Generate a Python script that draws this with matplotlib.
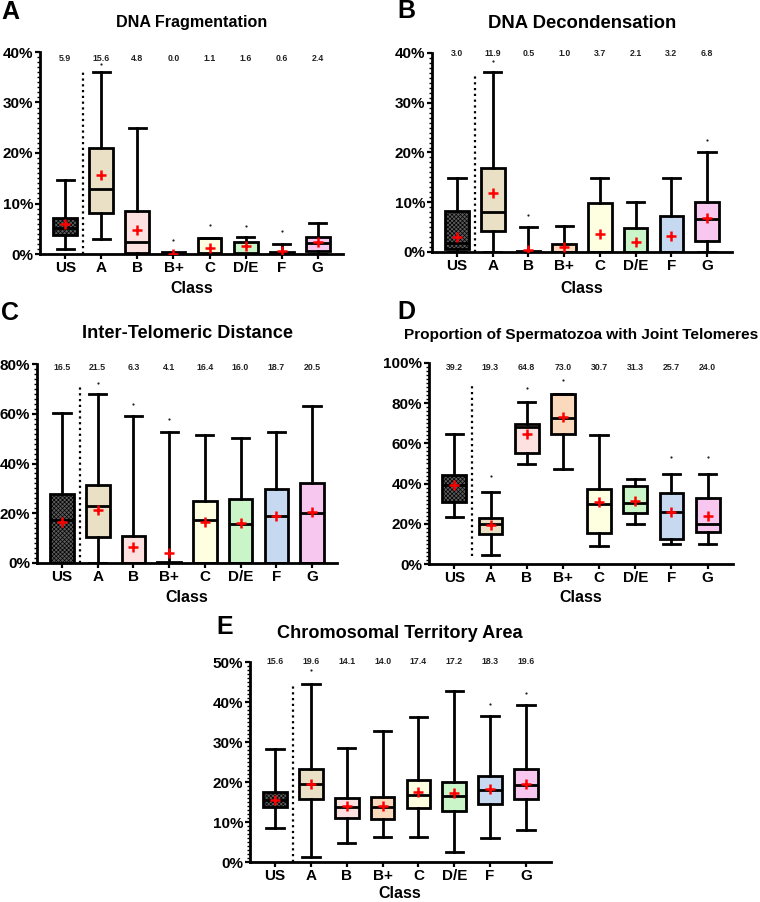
import numpy as np
import matplotlib
matplotlib.use("Agg")
import matplotlib.pyplot as plt
from matplotlib.ticker import PercentFormatter, MultipleLocator, AutoMinorLocator

plt.rcParams['font.family'] = ['Liberation Sans', 'DejaVu Sans']
plt.rcParams['font.weight'] = 'bold'
plt.rcParams['hatch.linewidth'] = 0.5

classes = ["US", "A", "B", "B+", "C", "D/E", "F", "G"]
box_colors = ["#5c5c5c", "#e9e0c6", "#fde0e0", "#fbd9bd", "#fefee0", "#c9f5c9", "#c6d9f1", "#f7c7f0"]

# per panel: whisker low, Q1, median, Q3, whisker high, mean, outliers
frag_lo = [1.0, 3.0, 0.0, 0.0, 0.0, 0.0, 0.0, 0.0]
frag_q1 = [3.75, 8.2, 0.1, 0.0, 0.0, 0.0, 0.0, 0.65]
frag_med = [5.2, 12.85, 2.4, 0.0, 0.1, 0.1, 0.0, 2.25]
frag_q3 = [7.05, 20.9, 8.6, 0.3, 3.1, 2.45, 0.3, 3.4]
frag_hi = [14.6, 36.0, 25.0, 0.0, 3.1, 3.3, 2.0, 6.05]
frag_mean = [5.9, 15.6, 4.8, 0.0, 1.1, 1.6, 0.6, 2.4]
frag_out = [[], [37.7], [], [2.8], [5.7], [5.5], [4.5], []]

deco_lo = [0.0, 0.0, 0.0, 0.0, 0.0, 0.0, 0.0, 0.0]
deco_q1 = [0.7, 4.2, 0.0, 0.0, 0.0, 0.0, 0.0, 2.15]
deco_med = [1.8, 8.0, 0.0, 0.0, 0.1, 0.1, 0.1, 6.7]
deco_q3 = [8.3, 16.8, 0.3, 1.7, 9.8, 4.8, 7.3, 10.1]
deco_hi = [14.9, 36.1, 5.0, 5.2, 14.9, 10.0, 14.9, 20.0]
deco_mean = [3.0, 11.9, 0.5, 1.0, 3.7, 2.1, 3.2, 6.8]
deco_out = [[], [38.3], [7.5], [], [], [], [], [22.5]]

telo_lo = [0.0, 0.0, 0.0, 0.0, 0.0, 0.0, 0.0, 0.0]
telo_q1 = [0.0, 10.5, 0.0, 0.0, 0.0, 0.0, 0.0, 0.0]
telo_med = [17.2, 23.0, 0.0, 0.0, 17.2, 15.8, 18.8, 20.3]
telo_q3 = [27.9, 31.3, 11.0, 0.5, 24.8, 25.9, 29.9, 32.2]
telo_hi = [60.4, 67.9, 59.1, 52.5, 51.4, 50.1, 52.6, 63.2]
telo_mean = [16.5, 21.5, 6.3, 4.1, 16.4, 16.0, 18.7, 20.5]
telo_out = [[], [72.5], [63.8], [57.9], [], [], [], []]

joint_lo = [23.5, 4.5, 49.8, 47.5, 8.9, 19.7, 9.9, 9.9]
joint_q1 = [30.6, 14.7, 55.3, 64.6, 15.2, 25.5, 12.3, 16.1]
joint_med = [39.2, 19.7, 68.2, 72.8, 30.0, 30.5, 25.7, 19.7]
joint_q3 = [44.5, 23.0, 69.9, 84.4, 37.3, 38.6, 35.1, 32.6]
joint_hi = [64.9, 35.8, 80.6, 84.4, 64.1, 42.5, 45.0, 45.0]
joint_mean = [39.2, 19.3, 64.8, 73.0, 30.7, 31.3, 25.7, 24.0]
joint_out = [[], [43.9], [87.6], [91.4], [], [], [53.3], [53.3]]

terr_lo = [8.5, 1.2, 4.75, 6.25, 6.3, 2.4, 6.1, 7.9]
terr_q1 = [13.75, 15.8, 11.0, 10.8, 13.4, 12.7, 14.6, 15.75]
terr_med = [15.4, 19.6, 13.75, 13.75, 16.8, 16.4, 18.1, 19.2]
terr_q3 = [17.4, 23.25, 16.0, 16.25, 20.6, 19.9, 21.6, 23.3]
terr_hi = [28.3, 44.6, 28.5, 32.8, 36.2, 42.7, 36.4, 39.25]
terr_mean = [15.6, 19.6, 14.1, 14.0, 17.4, 17.2, 18.3, 19.6]
terr_out = [[], [47.9], [], [], [], [], [39.6], [42.25]]

W, H = 760, 902
fig = plt.figure(figsize=(W / 100, H / 100), dpi=100)


def px_axes(left, top, right, bottom):
    return fig.add_axes([left / W, 1 - bottom / H, (right - left) / W, (bottom - top) / H])


def draw_panel(ax, lo, q1, med, q3, hi, mean, out, ymax, ystep, title, title_xy, title_size,
               letter, letter_xy, label_y, dot_range, class_xy):
    stats = []
    for i, c in enumerate(classes):
        stats.append(dict(label=c, whislo=lo[i], q1=q1[i], med=med[i], q3=q3[i],
                          whishi=hi[i], mean=mean[i], fliers=out[i]))
    bp = ax.bxp(stats, positions=range(len(classes)), widths=0.66, patch_artist=True,
                showmeans=True, showfliers=True,
                boxprops=dict(linewidth=2, edgecolor='black'),
                medianprops=dict(color='black', linewidth=2),
                whiskerprops=dict(color='black', linewidth=2),
                capprops=dict(color='black', linewidth=2),
                capwidths=0.48,
                meanprops=dict(marker='+', markerfacecolor='red', markeredgecolor='red',
                               markersize=6.5, markeredgewidth=1.8, linestyle='none'),
                flierprops=dict(marker='o', markersize=1.6, markerfacecolor='#222222',
                                markeredgecolor='none'))
    for patch, col in zip(bp['boxes'], box_colors):
        patch.set_facecolor(col)
    bp['boxes'][0].set_hatch('xxxxxxxx')
    for m in bp['means']:
        m.set_zorder(5)

    ax.set_xlim(-0.7, 7.7)
    ax.set_ylim(0, ymax)
    ax.axvline(0.5, ymin=dot_range[0], ymax=dot_range[1], color='black', linestyle=(0, (1, 1.6)),
               linewidth=1.6)

    for i, m in enumerate(mean):
        ax.text(i, label_y, f"{m:.1f}", transform=ax.get_xaxis_transform(),
                ha='center', va='center', fontsize=6.3, color='#222222', fontweight='bold')

    ax.yaxis.set_major_locator(MultipleLocator(ystep))
    ax.yaxis.set_minor_locator(AutoMinorLocator(10))
    ax.yaxis.set_major_formatter(PercentFormatter(decimals=0))
    for s in ['top', 'right']:
        ax.spines[s].set_visible(False)
    for s in ['left', 'bottom']:
        ax.spines[s].set_linewidth(2)
    ax.tick_params(axis='both', which='major', length=3.5, width=1.6, labelsize=11, pad=1.5)
    ax.tick_params(axis='y', which='minor', length=2, width=1)
    ax.set_xticks(range(len(classes)))
    ax.set_xticklabels(classes)
    for lab in ax.get_xticklabels() + ax.get_yticklabels():
        lab.set_fontweight('bold')

    fig.text(title_xy[0] / W, 1 - title_xy[1] / H, title, ha='center', va='center',
             fontsize=title_size, fontweight='bold')
    fig.text(letter_xy[0] / W, 1 - letter_xy[1] / H, letter, ha='left', va='center',
             fontsize=18, fontweight='bold')
    fig.text(class_xy[0] / W, 1 - class_xy[1] / H, "Class",
             ha='center', va='center', fontsize=11.5, fontweight='bold')


axA = px_axes(40, 52, 343, 254)
draw_panel(axA, frag_lo, frag_q1, frag_med, frag_q3, frag_hi, frag_mean, frag_out,
           40, 10, "DNA Fragmentation", (192, 23), 11.6, "A", (1, 12), 0.97, (0, 0.9), (192, 289))

axB = px_axes(432, 53, 732, 252)
draw_panel(axB, deco_lo, deco_q1, deco_med, deco_q3, deco_hi, deco_mean, deco_out,
           40, 10, "DNA Decondensation", (582, 23), 13.3, "B", (397, 11), 1.0, (0, 0.9), (582, 289))

axC = px_axes(37, 364, 337, 563)
draw_panel(axC, telo_lo, telo_q1, telo_med, telo_q3, telo_hi, telo_mean, telo_out,
           80, 20, "Inter-Telomeric Distance", (187, 333), 13.1, "C", (1, 313), 0.98, (0, 0.89), (187, 598))

axD = px_axes(429, 363, 733, 564)
draw_panel(axD, joint_lo, joint_q1, joint_med, joint_q3, joint_hi, joint_mean, joint_out,
           100, 20, "Proportion of Spermatozoa with Joint Telomeres", (581, 335), 11.1, "D",
           (397, 312), 0.977, (0.04, 0.89), (581, 598))

axE = px_axes(250, 662, 551, 862)
draw_panel(axE, terr_lo, terr_q1, terr_med, terr_q3, terr_hi, terr_mean, terr_out,
           50, 10, "Chromosomal Territory Area", (400, 633), 13.1, "E", (216, 627), 1.0, (0, 0.88), (400, 894))

fig.savefig("out.png", dpi=100)
